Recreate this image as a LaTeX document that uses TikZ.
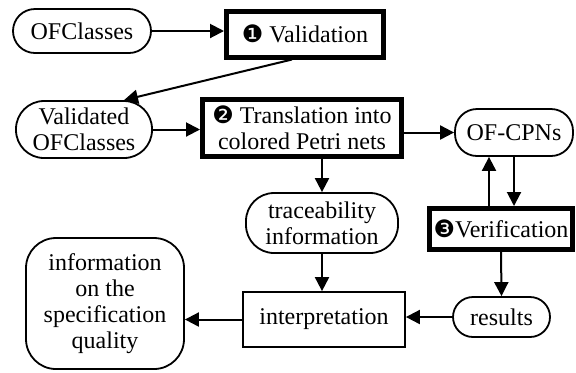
\documentclass[tikz,border=0pt]{standalone}
\usepackage{fontspec}
\setmainfont{Liberation Serif}
\newfontfamily\dingfont{DejaVu Sans}
\usetikzlibrary{arrows.meta,calc}
\newcommand{\stepno}[1]{{\dingfont\fontsize{12}{12}\selectfont#1}}
\tikzset{%
  >={Triangle[width=7pt,length=7pt]},
  % Specifications for style of nodes:
     base/.style = {rectangle, draw=black, line width=0.9pt, inner sep=0pt,
                           align=center, font=\fontsize{12}{13}\selectfont},
    dataPill/.style = {base, rounded corners=11pt},
    dataBlob/.style = {base, rounded corners=15pt},
    processBlock/.style = {base, line width=2.5pt},
    plainBlock/.style = {base},
    flow/.style = {->, line width=1pt},
}
\begin{document}
\begin{tikzpicture}[x=0.5pt, y=-0.5pt]
  \useasboundingbox (0,0) rectangle (576,372);
  % Specification of nodes (position, etc.)
  \node (ofClasses)        [dataPill, minimum width=69pt, minimum height=22pt] at (82,31)
                           {OFClasses};
  \node (validationBlock)  [processBlock, minimum width=78.5pt, minimum height=23pt] at (305,34)
                           {\stepno{❶} Validation};
  \node (validatedClasses) [dataPill, rounded corners=14pt, minimum width=68pt, minimum height=28.5pt] at (84,129.5)
                           {Validated\\OFClasses};
  \node (translationBlock) [processBlock, minimum width=99.5pt, minimum height=28.5pt] at (302,128)
                           {\stepno{❷} Translation into\\colored Petri nets};
  \node (ofCpns)           [dataPill, minimum width=59pt, minimum height=23.5pt] at (514,132.5)
                           {OF-CPNs};
  \node (traceInfo)        [dataPill, rounded corners=14pt, minimum width=76pt, minimum height=30pt] at (322,223)
                           {traceability\\information};
  \node (verificationBlock)[processBlock, minimum width=71.5pt, minimum height=20.5pt] at (501,229)
                           {\stepno{❸}Verification};
  \node (results)          [dataPill, rounded corners=10pt, minimum width=48.5pt, minimum height=20pt] at (501.5,317)
                           {results};
  \node (interpretation)   [plainBlock, minimum width=81pt, minimum height=27.5pt] at (324,319.5)
                           {interpretation};
  \node (qualityInfo)      [dataBlob, minimum width=79pt, minimum height=65.5pt] at (105,303.5)
                           {information\\on the\\specification\\quality};

  % Specification of lines between nodes specified above
  \draw[flow] (ofClasses.east) -- (ofClasses.east -| validationBlock.west);
  \draw[flow] ([xshift=-6.5pt]validationBlock.south) -- ([xshift=20pt]validatedClasses.north);
  \draw[flow] (validatedClasses.east) -- (validatedClasses.east -| translationBlock.west);
  \draw[flow] (translationBlock.east |- ofCpns.west) -- (ofCpns.west);
  \draw[flow] (translationBlock.south -| traceInfo.north) -- (traceInfo.north);

  \draw[flow] (ofCpns.south) -- (ofCpns.south |- verificationBlock.north);
  \draw[flow] ([xshift=-12.5pt]ofCpns.south |- verificationBlock.north) -- ([xshift=-12.5pt]ofCpns.south);
  \draw[flow] (verificationBlock.south) -- (results.north);

  \draw[flow] (traceInfo.south) -- (traceInfo.south |- interpretation.north);
  \draw[flow] (results.west) -- (results.west -| interpretation.east);
  \draw[flow] (interpretation.west) -- (interpretation.west -| qualityInfo.east);
\end{tikzpicture}
\end{document}
